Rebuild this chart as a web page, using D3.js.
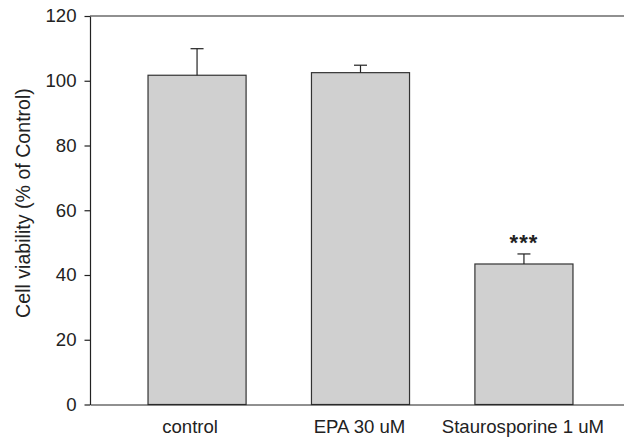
<!DOCTYPE html>
<html>
<head>
<meta charset="utf-8">
<script src="https://cdn.jsdelivr.net/npm/d3@7"></script>
<style>
  html, body { margin: 0; padding: 0; background: #fff; }
  svg { display: block; font-family: "Liberation Sans", Arial, Helvetica, sans-serif; }
</style>
</head>
<body>
<svg id="chart" width="624" height="437"></svg>
<script>
// Cell viability per treatment (mean and SEM, % of control)
const categories = ["control", "EPA 30 uM", "Staurosporine 1 uM"];
const means = [101.7, 102.5, 43.4];
const errors = [8.2, 2.3, 3.1];
const significance = ["", "", "***"];
const yTicks = [0, 20, 40, 60, 80, 100, 120];
const yTitle = "Cell viability (% of Control)";

const svg = d3.select("#chart");
const plotLeft = 90, plotRight = 631, plotTop = 16, plotBottom = 404.5;
const ink = "#222";
const labelSize = 18.6;

const x = d3.scaleBand()
  .domain(categories)
  .range([plotLeft, plotRight])
  .paddingInner(0.4)
  .paddingOuter(0.355);

const y = d3.scaleLinear().domain([0, 120]).range([plotBottom, plotTop]);

// Bars
svg.append("g").selectAll("rect")
  .data(categories)
  .join("rect")
  .attr("x", d => x(d))
  .attr("y", (d, i) => y(means[i]))
  .attr("width", x.bandwidth())
  .attr("height", (d, i) => y(0) - y(means[i]))
  .attr("fill", "#d0d0d0")
  .attr("stroke", "#333")
  .attr("stroke-width", 1.2);

// Upper error bars with caps
const cap = 6.5;
const eb = svg.append("g").attr("stroke", ink).attr("stroke-width", 1.2);
categories.forEach((c, i) => {
  const cx = x(c) + x.bandwidth() / 2;
  eb.append("line")
    .attr("x1", cx).attr("x2", cx)
    .attr("y1", y(means[i])).attr("y2", y(means[i] + errors[i]));
  eb.append("line")
    .attr("x1", cx - cap).attr("x2", cx + cap)
    .attr("y1", y(means[i] + errors[i])).attr("y2", y(means[i] + errors[i]));
});

// Significance markers
svg.append("g").selectAll("text")
  .data(categories)
  .join("text")
  .attr("x", d => x(d) + x.bandwidth() / 2)
  .attr("y", (d, i) => y(means[i] + errors[i]) - 4)
  .attr("text-anchor", "middle")
  .attr("font-size", 22)
  .attr("font-weight", "bold")
  .attr("letter-spacing", 1)
  .attr("fill", ink)
  .text((d, i) => significance[i]);

// Y axis
const yAxis = svg.append("g")
  .attr("transform", `translate(${plotLeft},0)`)
  .call(d3.axisLeft(y).tickValues(yTicks).tickSize(5.5).tickPadding(8).tickSizeOuter(0));
yAxis.select(".domain").attr("stroke", ink).attr("stroke-width", 1.2);
yAxis.selectAll(".tick line").attr("stroke", ink).attr("stroke-width", 1.2);
yAxis.selectAll(".tick text")
  .attr("font-size", labelSize)
  .attr("font-family", "Liberation Sans, Arial, sans-serif")
  .attr("fill", ink);

// X axis (baseline) with category labels, no ticks
const xAxis = svg.append("g")
  .attr("transform", `translate(0,${plotBottom})`)
  .call(d3.axisBottom(x).tickSize(0).tickPadding(15).tickSizeOuter(0));
xAxis.select(".domain").attr("stroke", ink).attr("stroke-width", 1.2);
xAxis.selectAll(".tick text")
  .attr("font-size", labelSize)
  .attr("font-family", "Liberation Sans, Arial, sans-serif")
  .attr("fill", ink)
  .attr("dx", (d, i) => i === 0 ? -7 : -1);

// Top frame line
svg.append("line")
  .attr("x1", plotLeft).attr("x2", plotRight)
  .attr("y1", plotTop).attr("y2", plotTop)
  .attr("stroke", ink).attr("stroke-width", 1.2);

// Y axis title
svg.append("text")
  .attr("transform", `translate(30,203) rotate(-90)`)
  .attr("text-anchor", "middle")
  .attr("font-size", 19.6)
  .attr("fill", ink)
  .text(yTitle);
</script>
</body>
</html>
